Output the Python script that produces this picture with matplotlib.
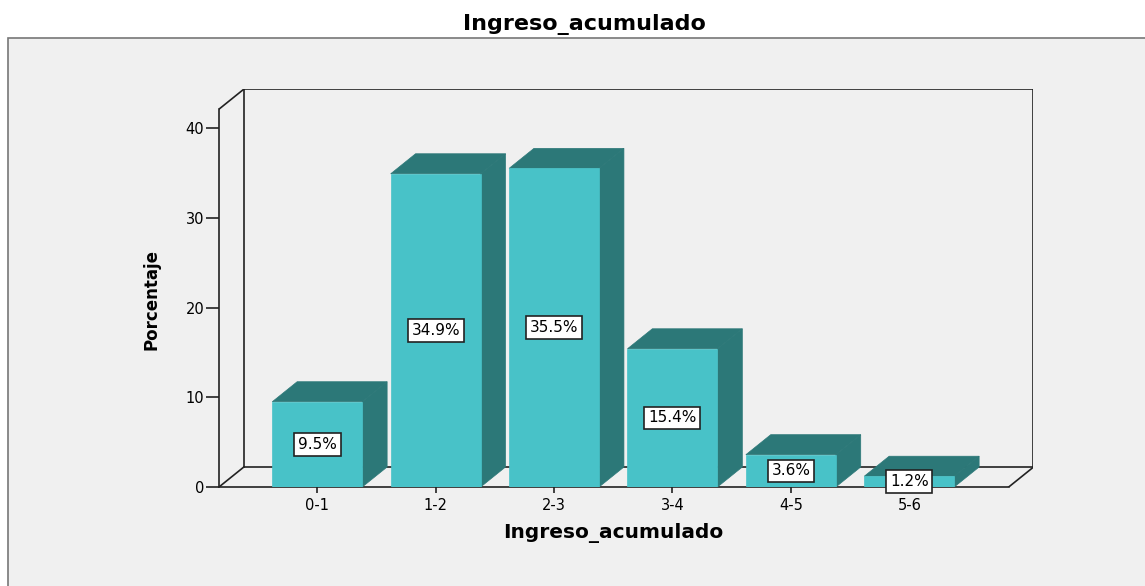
import matplotlib
matplotlib.use("Agg")
import matplotlib.pyplot as plt
from matplotlib.patches import Polygon, Rectangle

# data
categories = ["0-1", "1-2", "2-3", "3-4", "4-5", "5-6"]
percentages = [9.5, 34.9, 35.5, 15.4, 3.6, 1.2]
y_ticks = [0, 10, 20, 30, 40]

FRONT = "#48c2c8"
DARK = "#2c7878"
PANEL = "#f0f0f0"
LINE = "#222222"

# fake 3d depth (data units)
DX, DY = 0.21, 2.23
BAR_W = 0.76
X0, X1 = -0.83, 5.84     # front floor edge
YTOP = 42.1              # front top of the wall

fig = plt.figure(figsize=(11.45, 5.86), dpi=100)
fig.patch.set_facecolor("white")

# grey chart frame
fig.patches.append(Rectangle((8 / 1145, -0.05), 1.2, (586 - 38) / 586 + 0.05,
                             transform=fig.transFigure, facecolor=PANEL,
                             edgecolor="#777777", linewidth=1.2, zorder=-1))

ax = fig.add_axes([219 / 1145, (586 - 487) / 586, 814 / 1145, 398 / 586])
ax.set_facecolor("none")
ax.set_xlim(X0, X0 + 814 / 118.4)
ax.set_ylim(0, 398 / 8.975)

# back wall and floor edges
bx0, bx1 = X0 + DX, X0 + 814 / 118.4
ax.plot([bx0, bx0, bx1, bx1], [DY, YTOP + DY, YTOP + DY, DY], color=LINE, lw=1.2, zorder=1)
ax.plot([bx0, bx1], [DY, DY], color=LINE, lw=1.2, zorder=1)
ax.plot([X0, bx0], [0, DY], color=LINE, lw=1.2, zorder=1)
ax.plot([X0, bx0], [YTOP, YTOP + DY], color=LINE, lw=1.2, zorder=1)
ax.plot([X1, X1 + DX], [0, DY], color=LINE, lw=1.2, zorder=1)

for i, v in enumerate(percentages):
    l, r = i - BAR_W / 2, i + BAR_W / 2
    side = [(r, 0), (r + DX, DY), (r + DX, v + DY), (r, v)]
    top = [(l, v), (r, v), (r + DX, v + DY), (l + DX, v + DY)]
    ax.add_patch(Polygon(side, closed=True, facecolor=DARK, edgecolor=DARK, lw=0.5, zorder=3))
    ax.add_patch(Polygon(top, closed=True, facecolor=DARK, edgecolor=DARK, lw=0.5, zorder=3))
    ax.add_patch(Rectangle((l, 0), BAR_W, v, facecolor=FRONT, edgecolor=FRONT, lw=0.5, zorder=4))
    ax.text(i, v / 2, f"{v}%", ha="center", va="center", fontsize=11, color="black",
            zorder=5, bbox=dict(boxstyle="square,pad=0.25", facecolor="white",
                                edgecolor=LINE, linewidth=1.2))

for s in ["top", "right"]:
    ax.spines[s].set_visible(False)
ax.spines["left"].set_bounds(0, YTOP)
ax.spines["bottom"].set_bounds(X0, X1)
for s in ["left", "bottom"]:
    ax.spines[s].set_color(LINE)
    ax.spines[s].set_linewidth(1.2)
    ax.spines[s].set_zorder(2)

ax.set_yticks(y_ticks)
ax.set_xticks(range(len(categories)))
ax.set_xticklabels(categories)
ax.tick_params(axis="y", length=9.5, width=1.2, color=LINE, pad=1, labelsize=10.5)
ax.tick_params(axis="x", length=4.5, width=1.2, color=LINE, pad=3.5, labelsize=10.5)

fig.text(584 / 1145, (586 - 30) / 586, "Ingreso_acumulado", ha="center", va="baseline",
         fontsize=16, fontweight="bold")
fig.text(613 / 1145, (586 - 538) / 586, "Ingreso_acumulado", ha="center", va="baseline",
         fontsize=14.5, fontweight="bold")
fig.text(152 / 1145, (586 - 300) / 586, "Porcentaje", ha="center", va="center",
         rotation=90, fontsize=12, fontweight="bold")

fig.savefig("out.png", dpi=100, facecolor="white")
